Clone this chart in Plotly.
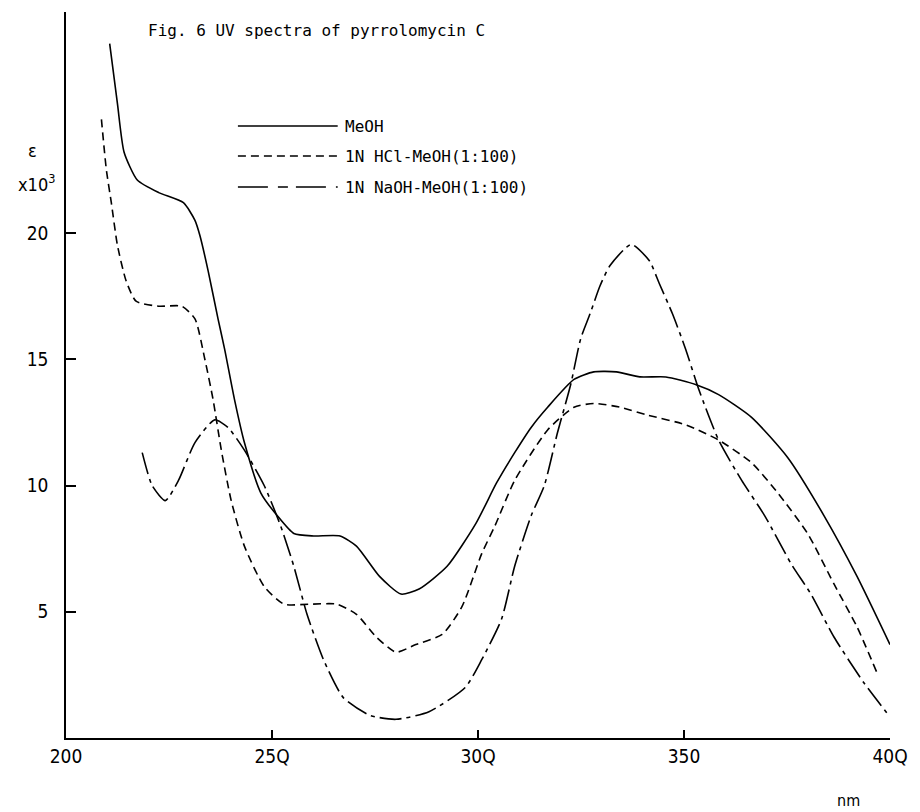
import plotly.graph_objects as go

# ---- data ----
meoh_x = [210.6, 212.5, 214.1, 217.3, 222.5, 228.5, 231.3, 232.5, 234.5, 236.9, 238.5, 240.9, 243.3,
          247.3, 251.3, 255.3, 260.1, 266.5, 270.5, 276.1, 281.3, 285.7, 292.5, 299.5, 304.5, 308.9,
          312.9, 316.9, 323.3, 328.1, 333.6, 339.3, 345.6, 352.8, 358.4, 366.4, 375.2, 384.0, 392.0, 400.0]
meoh_y = [27.5, 25.1, 23.2, 22.1, 21.6, 21.2, 20.5, 19.9, 18.5, 16.6, 15.4, 13.4, 11.7,
          9.7, 8.8, 8.1, 8.0, 8.0, 7.6, 6.4, 5.7, 5.9, 6.8, 8.5, 10.1, 11.3,
          12.3, 13.1, 14.2, 14.5, 14.5, 14.3, 14.3, 14.0, 13.6, 12.7, 11.1, 8.8, 6.4, 3.7]

hcl_x = [208.6, 209.8, 211.0, 212.5, 214.6, 217.0, 222.5, 228.1, 231.3, 233.7, 235.7, 237.7, 240.1,
         243.3, 248.1, 252.9, 259.3, 265.7, 270.5, 275.3, 280.1, 284.9, 291.3, 296.1, 300.9, 304.1,
         308.9, 316.9, 323.3, 328.1, 334.5, 340.9, 350.5, 358.4, 366.4, 372.8, 380.0, 386.4, 392.0, 396.8]
hcl_y = [24.5, 22.5, 21.2, 19.5, 18.1, 17.3, 17.1, 17.1, 16.6, 15.0, 13.4, 11.4, 9.4,
         7.6, 6.0, 5.3, 5.3, 5.3, 4.9, 4.0, 3.4, 3.7, 4.1, 5.2, 7.3, 8.4,
         10.2, 12.2, 13.1, 13.25, 13.1, 12.8, 12.4, 11.8, 10.9, 9.7, 8.1, 6.1, 4.4, 2.6]

naoh_x = [218.5, 220.9, 224.1, 227.3, 231.3, 236.1, 239.3, 243.3, 248.1, 252.1, 255.3, 258.5, 262.5,
          267.3, 273.7, 280.1, 288.1, 296.9, 300.9, 305.7, 308.9, 312.9, 316.1, 319.3, 322.5, 324.9,
          327.2, 329.6, 332.0, 337.2, 341.6, 344.0, 347.2, 350.4, 353.6, 358.4, 364.0, 369.6, 376.0,
          380.8, 386.4, 393.6, 399.2]
naoh_y = [11.3, 10.0, 9.4, 10.2, 11.7, 12.6, 12.3, 11.4, 10.0, 8.4, 6.8, 4.9, 3.1,
          1.6, 0.9, 0.74, 1.04, 2.0, 3.1, 4.7, 6.8, 8.8, 10.0, 12.1, 14.0, 15.8,
          16.8, 17.9, 18.7, 19.55, 18.9, 18.0, 16.8, 15.4, 13.8, 11.8, 10.2, 8.8, 6.9,
          5.7, 4.0, 2.2, 1.0]

series_names = ["MeOH", "1N HCl-MeOH(1:100)", "1N NaOH-MeOH(1:100)"]
x_ticks = [200, 250, 300, 350, 400]
x_tick_text = ["200", "25Q", "30Q", "350", "40Q"]
y_ticks = [5, 10, 15, 20]

DASH_HCL = "8px,5px"
DASH_NAOH = "22px,5px,4px,5px"
MONO = "DejaVu Sans Mono, monospace"
SANS = "Liberation Sans Narrow, DejaVu Sans Condensed, Roboto, sans-serif"

# plot area in pixels
W, H = 920, 812
L, R, T, B = 66, 20, 12, 74
PW, PH = W - L - R, H - T - B


def px(xp):
    return (xp - L) / PW


def py(yp):
    return (H - B - yp) / PH


fig = go.Figure()
for xs, ys, dash in [(meoh_x, meoh_y, "solid"), (hcl_x, hcl_y, DASH_HCL), (naoh_x, naoh_y, DASH_NAOH)]:
    fig.add_trace(go.Scatter(x=xs, y=ys, mode="lines", line=dict(color="black", width=1.6, dash=dash,
                                                             shape="spline", smoothing=0.6),
                             showlegend=False, hoverinfo="skip"))

# legend drawn by hand (long samples as in the figure)
leg_rows = [126, 156, 187]
for name, yrow, dash in zip(series_names, leg_rows, ["solid", DASH_HCL, "30px,10px,10px,8px"]):
    fig.add_shape(type="line", xref="paper", yref="paper", x0=px(240), x1=px(341), y0=py(yrow), y1=py(yrow),
                  line=dict(color="black", width=1.6, dash=dash))
    fig.add_annotation(xref="paper", yref="paper", x=px(346), y=py(yrow), text=name, showarrow=False,
                       xanchor="left", yanchor="middle", font=dict(family=MONO, size=16, color="black"))

fig.add_annotation(xref="paper", yref="paper", x=px(147), y=py(30), text="Fig. 6 UV spectra of pyrrolomycin C",
                   showarrow=False, xanchor="left", yanchor="middle", font=dict(family=MONO, size=16, color="black"))
fig.add_annotation(xref="paper", yref="paper", x=px(32), y=py(150), text="ε", showarrow=False,
                   xanchor="center", yanchor="middle", font=dict(family=SANS, size=18, color="black"))
fig.add_annotation(xref="paper", yref="paper", x=px(36), y=py(183), text="x10<sup>3</sup>", showarrow=False,
                   xanchor="center", yanchor="middle", font=dict(family=SANS, size=18, color="black"))
fig.add_annotation(xref="paper", yref="paper", x=px(858), y=py(800), text="nm", showarrow=False,
                   xanchor="center", yanchor="middle", font=dict(family=SANS, size=16, color="black"))

fig.update_layout(
    width=W, height=H, margin=dict(l=L, r=R, t=T, b=B),
    paper_bgcolor="white", plot_bgcolor="white",
    xaxis=dict(range=[200, 400], tickvals=x_ticks, ticktext=x_tick_text, ticks="inside", ticklen=8,
               tickwidth=1.5, tickcolor="black", showline=True, linecolor="black", linewidth=2,
               showgrid=False, zeroline=False, tickfont=dict(family=SANS, size=19, color="black")),
    yaxis=dict(range=[0, (H - B - T) / 25.25], tickvals=y_ticks, ticks="inside", ticklen=10,
               tickwidth=1.5, tickcolor="black", showline=True, linecolor="black", linewidth=1.6,
               showgrid=False, zeroline=False, ticklabelstandoff=12,
               tickfont=dict(family=SANS, size=19, color="black")),
)

fig.write_html("out.html")
